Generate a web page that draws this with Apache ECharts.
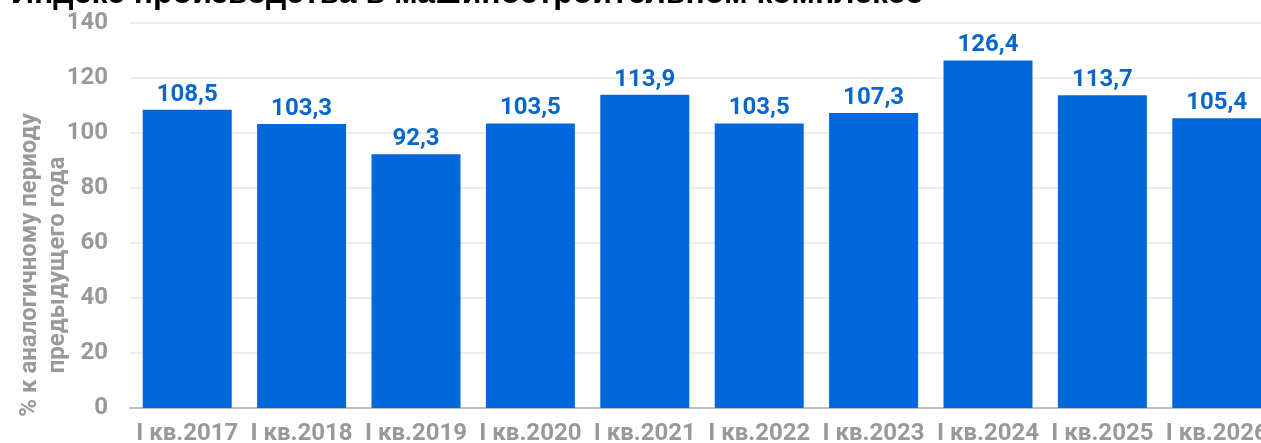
<!DOCTYPE html>
<html>
<head>
<meta charset="utf-8">
<script src="https://cdn.jsdelivr.net/npm/echarts@6/dist/echarts.min.js"></script>
<style>
    html, body { margin: 0; padding: 0; background: #fff; overflow: hidden; }
    #main { width: 1274px; height: 443px; }
</style>
</head>
<body>
<div id="main"></div>
<script>
// данные
const categories = ['I кв.2017', 'I кв.2018', 'I кв.2019', 'I кв.2020', 'I кв.2021',
    'I кв.2022', 'I кв.2023', 'I кв.2024', 'I кв.2025', 'I кв.2026'];
const values = [108.5, 103.3, 92.3, 103.5, 113.9, 103.5, 107.3, 126.4, 113.7, 105.4];
const yTicks = [0, 20, 40, 60, 80, 100, 120, 140];

const titleText = 'Индекс производства в машиностроительном комплексе';
const axisTitle = '% к аналогичному периоду\nпредыдущего года';

const myChart = echarts.init(document.getElementById('main'));

let option = {
    animation: false,
    grid: {
        left: 130,
        right: 0,
        top: 23,
        bottom: 35,
        containLabel: false,
        outerBoundsMode: 'none'
    },
    graphic: [{
        type: 'text',
        x: 11,
        y: -6,
        style: {
            text: titleText,
            font: 'bold 32px "Liberation Sans", Arial',
            fill: '#000',
            align: 'left',
            verticalAlign: 'middle'
        }
    }, {
        type: 'text',
        x: 44,
        y: 265,
        rotation: Math.PI / 2,
        style: {
            text: axisTitle,
            font: 'bold 24px Roboto',
            lineHeight: 28,
            fill: '#999',
            align: 'center',
            verticalAlign: 'middle'
        }
    }],
    xAxis: {
        type: 'category',
        data: categories,
        axisTick: { show: false },
        axisLine: {
            lineStyle: { color: '#bfbfbf', width: 2 }
        },
        axisLabel: {
            color: '#999',
            fontFamily: 'Roboto',
            fontWeight: 'bold',
            fontSize: 24,
            margin: 14,
            interval: 0
        }
    },
    yAxis: {
        type: 'value',
        min: yTicks[0],
        max: yTicks[yTicks.length - 1],
        interval: 20,
        axisLine: { show: false },
        axisTick: { show: false },
        axisLabel: {
            color: '#999',
            fontFamily: 'Roboto',
            fontWeight: 'bold',
            fontSize: 24,
            margin: 22
        },
        splitLine: {
            lineStyle: { color: '#ececec', width: 2 }
        }
    },
    series: [{
        type: 'bar',
        data: values,
        barWidth: 89,
        itemStyle: { color: '#0068da' },
        label: {
            show: true,
            position: 'top',
            distance: 3,
            color: '#0866cc',
            fontFamily: 'Roboto',
            fontWeight: 'bold',
            fontSize: 24,
            formatter: p => String(p.value).replace('.', ',')
        }
    }]
};
myChart.setOption(option);
</script>
</body>
</html>
